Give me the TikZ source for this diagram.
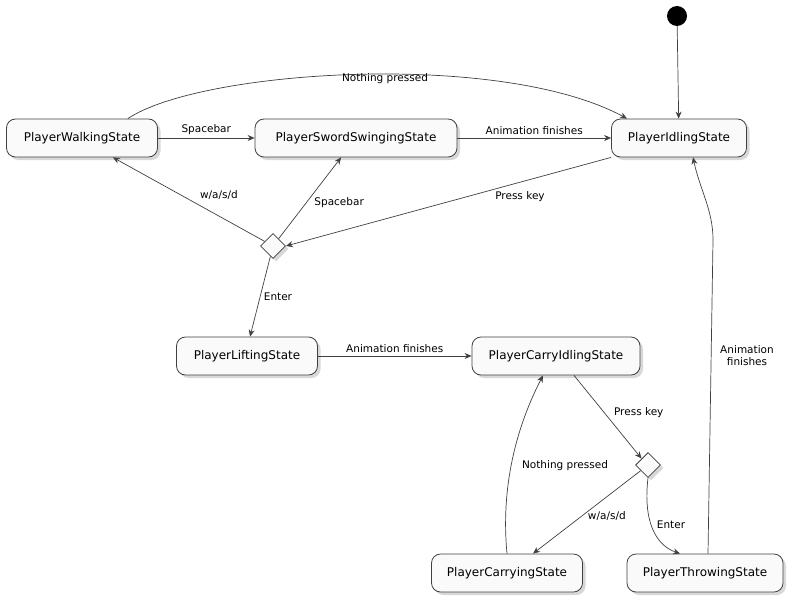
\documentclass[tikz,border=0pt]{standalone}
\usepackage{fontspec}
\setmainfont{DejaVu Sans}
\usetikzlibrary{shapes.geometric,shadows,arrows.meta}
\tikzset{
  state/.style={draw=black!75, line width=0.8pt, rounded corners=9pt, fill=gray!4,
    minimum height=38pt, inner xsep=6pt, font=\fontsize{12}{14}\selectfont,
    drop shadow={shadow xshift=3pt, shadow yshift=-3pt, fill=black!30}},
  choice/.style={diamond, draw=black!75, line width=0.8pt, fill=gray!4,
    minimum size=25pt, inner sep=0pt,
    drop shadow={shadow xshift=3pt, shadow yshift=-3pt, fill=black!30}},
  trans/.style={->, >={Stealth[length=7pt,width=6pt]}, draw=black!75, line width=0.7pt},
  lbl/.style={font=\fontsize{10.5}{12}\selectfont, text=black}
}
\begin{document}
\begin{tikzpicture}[x=1pt,y=-1pt]
  \useasboundingbox (0,0) rectangle (799,607);
  % states
  \node[circle, fill=black, minimum size=20pt, inner sep=0pt] (start) at (677,16) {};
  \node[state, minimum width=151pt] (walking) at (82,138) {PlayerWalkingState};
  \node[state, minimum width=202pt] (sword) at (356,138) {PlayerSwordSwingingState};
  \node[state, minimum width=135pt] (idling) at (679,138) {PlayerIdlingState};
  \node[choice] (choiceA) at (273,246) {};
  \node[state, minimum width=141pt] (lifting) at (247,356) {PlayerLiftingState};
  \node[state, minimum width=168pt] (carryidle) at (556,356) {PlayerCarryIdlingState};
  \node[choice] (choiceB) at (648,465) {};
  \node[state, minimum width=151pt] (carrying) at (507,573) {PlayerCarryingState};
  \node[state, minimum width=156pt] (throwing) at (705,573) {PlayerThrowingState};

  % transitions
  \draw[trans] (start) -- (idling);
  \draw[trans] (walking.north east) ++(-30,0) .. controls (200,70) and (500,50) .. ([xshift=-52pt]idling.north);
  \node[lbl] (lblNothing) at (385,79) {Nothing pressed};
  \draw[trans] (walking) -- node[lbl, above] {Spacebar} (sword);
  \draw[trans] (sword) -- node[lbl, above] {Animation finishes} (idling);
  \draw[trans] (idling.south west) -- (choiceA.east);
  \node[lbl] (lblPress) at (520,197) {Press key};
  \draw[trans] (choiceA) -- node[lbl, above right, pos=0.45] {w/a/s/d} ([xshift=-45pt]walking.south east);
  \draw[trans] (choiceA) -- node[lbl, right, pos=0.45, xshift=4pt] {Spacebar} (sword);
  \draw[trans] (choiceA) -- node[lbl, right, pos=0.5] {Enter} ([xshift=3pt]lifting.north);
  \draw[trans] (lifting) -- node[lbl, above] {Animation finishes} (carryidle);
  \draw[trans] ([xshift=18pt]carryidle.south) -- node[lbl, right, pos=0.45, xshift=6pt] {Press key} (choiceB.north west);
  \draw[trans] (choiceB) -- node[lbl, below right, pos=0.45, xshift=-8pt] {w/a/s/d} ([xshift=26pt]carrying.north);
  \draw[trans] (choiceB.south) .. controls (643,520) and (655,545) .. ([xshift=-25pt]throwing.north)
    node[lbl, pos=0.45, right, xshift=2pt] {Enter};
  \draw[trans] (carrying.north) .. controls (500,480) and (520,420) .. ([xshift=-13pt]carryidle.south);
  \node[lbl] (lblNothingB) at (565,466) {Nothing pressed};
  \draw[trans] ([xshift=3pt]throwing.north) -- (713,240) .. controls (713,210) and (700,190) .. ([xshift=14pt]idling.south);
  \node[lbl, align=center] (lblAnim) at (747,356) {Animation\\finishes};
\end{tikzpicture}
\end{document}
